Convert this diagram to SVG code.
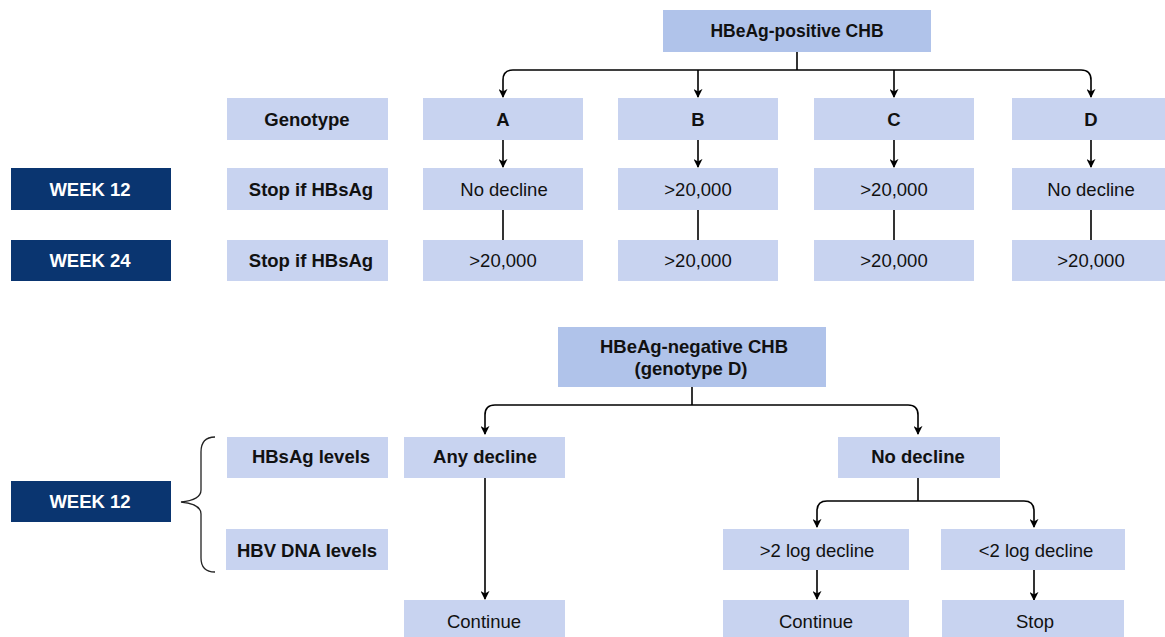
<svg xmlns="http://www.w3.org/2000/svg" width="1165" height="637" viewBox="0 0 1165 637">
<style>
.hd{fill:#b0c3ea}
.bx{fill:#c8d3f0}
.dk{fill:#0a3570}
text{font-family:"Liberation Sans",Arial,sans-serif;font-size:18.5px;text-anchor:middle;dominant-baseline:central;fill:#111}
.b{font-weight:bold}
.w{fill:#fff;font-weight:bold}
.ln{fill:none;stroke:#000;stroke-width:1.6}
</style>
<defs>
<marker id="ah" viewBox="0 0 10 10" refX="9" refY="5" markerWidth="9" markerHeight="9" markerUnits="userSpaceOnUse" orient="auto">
<path d="M0,0 L10,5 L0,10 L3,5 Z" fill="#000"/>
</marker>
</defs>
<rect width="1165" height="637" fill="#fff"/>
<g id="connectors">
<path class="ln" d="M797,52 V70"/>
<path class="ln" d="M513,70 H1081 Q1091,70 1091,80 V97" marker-end="url(#ah)"/>
<path class="ln" d="M513,70 Q503,70 503,80 V97" marker-end="url(#ah)"/>
<path class="ln" d="M698,70 V97" marker-end="url(#ah)"/>
<path class="ln" d="M894,70 V97" marker-end="url(#ah)"/>
<path class="ln" d="M503,140 V167" marker-end="url(#ah)"/>
<path class="ln" d="M698,140 V167" marker-end="url(#ah)"/>
<path class="ln" d="M894,140 V167" marker-end="url(#ah)"/>
<path class="ln" d="M1091,140 V167" marker-end="url(#ah)"/>
<path class="ln" d="M503,210 V240"/>
<path class="ln" d="M698,210 V240"/>
<path class="ln" d="M894,210 V240"/>
<path class="ln" d="M1091,210 V240"/>
<path class="ln" d="M692,387 V405"/>
<path class="ln" d="M495,405 H908 Q918,405 918,415 V434" marker-end="url(#ah)"/>
<path class="ln" d="M495,405 Q485,405 485,415 V434" marker-end="url(#ah)"/>
<path class="ln" d="M485,477 V599" marker-end="url(#ah)"/>
<path class="ln" d="M918,477 V501"/>
<path class="ln" d="M827,501 H1024 Q1034,501 1034,511 V527" marker-end="url(#ah)"/>
<path class="ln" d="M827,501 Q817,501 817,511 V527" marker-end="url(#ah)"/>
<path class="ln" d="M817,570 V599" marker-end="url(#ah)"/>
<path class="ln" d="M1034,570 V600" marker-end="url(#ah)"/>
<path fill="none" stroke="#222" stroke-width="1.3" d="M215,437 Q201,437 201,452 V490 Q201,500 181,502 Q201,504 201,514 V558 Q201,572 215,572"/>
</g>
<g id="n-pos"><rect class="hd" x="663" y="10" width="268" height="42"/><text class="b" x="797" y="31" style="font-size:17.5px">HBeAg-positive CHB</text></g>
<g id="n-genotype"><rect class="bx" x="227" y="98" width="161" height="42"/><text class="b" x="307" y="119">Genotype</text></g>
<g id="n-a"><rect class="bx" x="423" y="98" width="160" height="42"/><text class="b" x="503" y="119">A</text></g>
<g id="n-b"><rect class="bx" x="618" y="98" width="160" height="42"/><text class="b" x="698" y="119">B</text></g>
<g id="n-c"><rect class="bx" x="814" y="98" width="160" height="42"/><text class="b" x="894" y="119">C</text></g>
<g id="n-d"><rect class="bx" x="1012" y="98" width="160" height="42"/><text class="b" x="1091" y="119">D</text></g>
<g id="n-w12"><rect class="dk" x="11" y="168" width="160" height="42"/><text class="w" x="90" y="189">WEEK 12</text></g>
<g id="n-stop12"><rect class="bx" x="227" y="168" width="161" height="42"/><text class="b" x="311" y="189">Stop if HBsAg</text></g>
<g id="n-a12"><rect class="bx" x="423" y="168" width="160" height="42"/><text x="504" y="189">No decline</text></g>
<g id="n-b12"><rect class="bx" x="618" y="168" width="160" height="42"/><text x="698" y="189">&gt;20,000</text></g>
<g id="n-c12"><rect class="bx" x="814" y="168" width="160" height="42"/><text x="894" y="189">&gt;20,000</text></g>
<g id="n-d12"><rect class="bx" x="1012" y="168" width="160" height="42"/><text x="1091" y="189">No decline</text></g>
<g id="n-w24"><rect class="dk" x="11" y="240" width="160" height="41"/><text class="w" x="90" y="260">WEEK 24</text></g>
<g id="n-stop24"><rect class="bx" x="227" y="240" width="161" height="41"/><text class="b" x="311" y="260">Stop if HBsAg</text></g>
<g id="n-a24"><rect class="bx" x="423" y="240" width="160" height="41"/><text x="503" y="260">&gt;20,000</text></g>
<g id="n-b24"><rect class="bx" x="618" y="240" width="160" height="41"/><text x="698" y="260">&gt;20,000</text></g>
<g id="n-c24"><rect class="bx" x="814" y="240" width="160" height="41"/><text x="894" y="260">&gt;20,000</text></g>
<g id="n-d24"><rect class="bx" x="1012" y="240" width="160" height="41"/><text x="1091" y="260">&gt;20,000</text></g>
<g id="n-neg"><rect class="hd" x="558" y="327" width="268" height="60"/><text class="b" x="694" y="346">HBeAg-negative CHB</text><text class="b" x="691" y="368">(genotype D)</text></g>
<g id="n-w12b"><rect class="dk" x="11" y="481" width="160" height="41"/><text class="w" x="90" y="501">WEEK 12</text></g>
<g id="n-hbsag"><rect class="bx" x="227" y="437" width="161" height="41"/><text class="b" x="311" y="456">HBsAg levels</text></g>
<g id="n-hbv"><rect class="bx" x="226" y="529" width="162" height="41"/><text class="b" x="307" y="550">HBV DNA levels</text></g>
<g id="n-any"><rect class="bx" x="404" y="437" width="161" height="41"/><text class="b" x="485" y="456">Any decline</text></g>
<g id="n-nod"><rect class="bx" x="838" y="437" width="162" height="41"/><text class="b" x="918" y="456">No decline</text></g>
<g id="n-gt2"><rect class="bx" x="723" y="529" width="186" height="41"/><text x="817" y="550">&gt;2 log decline</text></g>
<g id="n-lt2"><rect class="bx" x="941" y="529" width="184" height="41"/><text x="1036" y="550">&lt;2 log decline</text></g>
<g id="n-cont1"><rect class="bx" x="404" y="600" width="161" height="40"/><text x="484" y="621">Continue</text></g>
<g id="n-cont2"><rect class="bx" x="723" y="600" width="186" height="40"/><text x="816" y="621">Continue</text></g>
<g id="n-stop"><rect class="bx" x="942" y="600" width="182" height="40"/><text x="1035" y="621">Stop</text></g>
</svg>
